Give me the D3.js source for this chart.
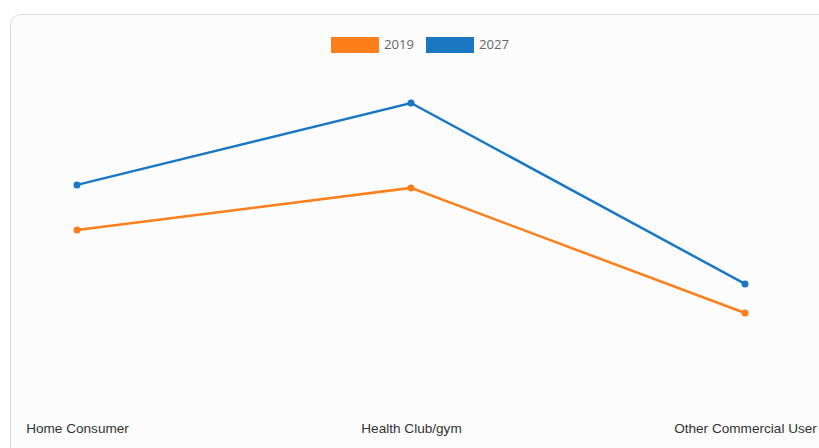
<!DOCTYPE html>
<html><head><meta charset="utf-8">
<script src="https://cdn.jsdelivr.net/npm/d3@7"></script>
<style>body{margin:0;background:#fff;}svg{display:block;}</style>
</head><body><svg id="c" width="819" height="448"></svg>
<script>
const categories = ["Home Consumer", "Health Club/gym", "Other Commercial User"];
const seriesNames = ["2019", "2027"];
const values2019 = [5.77, 7.17, 3.0];
const values2027 = [7.27, 10.0, 3.97];
const colors = ["#fd7f1c", "#1a78c2"];

const svg = d3.select("#c");
svg.append("rect").attr("x", 10.5).attr("y", 14.5).attr("width", 830).attr("height", 460)
  .attr("rx", 10).attr("fill", "#fcfcfc").attr("stroke", "#dcdcdc");

const x = d3.scalePoint().domain(categories).range([77, 745]);
const y = d3.scaleLinear().domain([0, 10]).range([403, 103]);

const series = [
  {name: seriesNames[0], values: values2019, color: colors[0]},
  {name: seriesNames[1], values: values2027, color: colors[1]}
];
const line = d3.line().x((d, i) => x(categories[i])).y(d => y(d));
series.forEach(s => {
  svg.append("path").attr("d", line(s.values)).attr("fill", "none")
    .attr("stroke", s.color).attr("stroke-width", 2.5);
  svg.selectAll(null).data(s.values).enter().append("circle")
    .attr("cx", (d, i) => x(categories[i])).attr("cy", d => y(d)).attr("r", 3.5)
    .attr("fill", s.color);
});

const xAxis = d3.axisBottom(x).tickSize(0).tickPadding(0);
const g = svg.append("g").attr("transform", "translate(0,423)").call(xAxis);
g.select(".domain").remove();
g.selectAll("text").attr("font-family", "Liberation Sans, Arial, sans-serif")
  .attr("font-size", 13.6).attr("fill", "#333").attr("dy", "0.71em");

// legend
const legendX = [331, 426];
series.forEach((s, i) => {
  svg.append("rect").attr("x", legendX[i]).attr("y", 37).attr("width", 48).attr("height", 16)
    .attr("fill", s.color);
  svg.append("text").attr("x", legendX[i] + 53).attr("y", 49)
    .attr("font-family", "Open Sans, sans-serif").attr("font-size", 13).attr("fill", "#666")
    .attr("textLength", 30).attr("lengthAdjust", "spacingAndGlyphs").text(s.name);
});
</script></body></html>
